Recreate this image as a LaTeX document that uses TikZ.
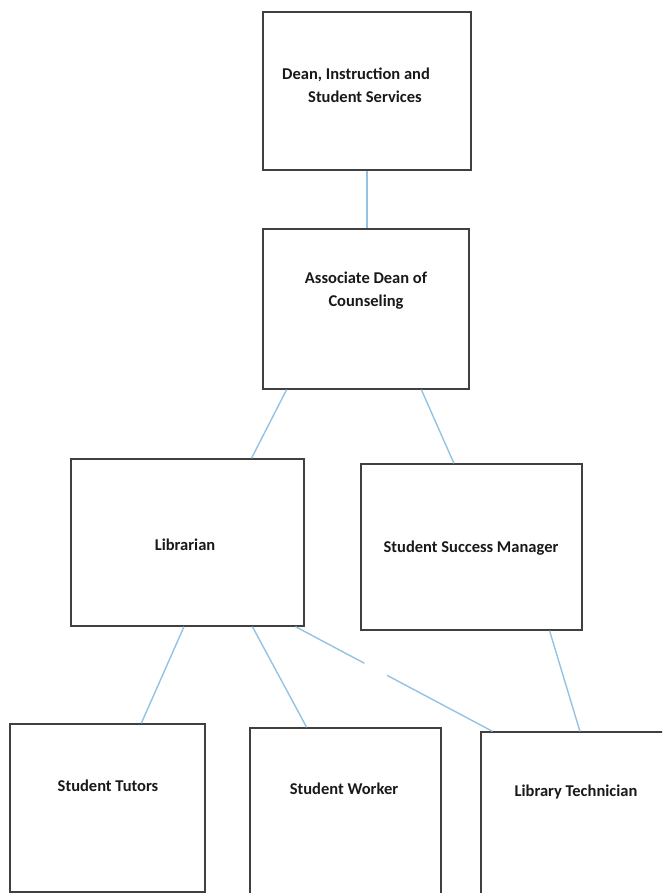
\documentclass[tikz,border=0pt]{standalone}
\usepackage{fontspec}
\setmainfont{Carlito}
\usetikzlibrary{calc}
\definecolor{boxline}{HTML}{404040}
\definecolor{conn}{HTML}{93C3E3}
\begin{document}
\begin{tikzpicture}[x=1pt,y=-1pt,
  box/.style={draw=boxline,line width=1.3pt,rectangle,inner sep=0pt},
  lbl/.style={font=\fontsize{16.5}{23}\selectfont\bfseries,text=black!90,align=center,inner sep=0pt},
  link/.style={draw=conn,line width=1.4pt}]
\useasboundingbox (0,0) rectangle (662,893);
\clip (0,0) rectangle (662,893);
% boxes
\node[box,minimum width=208pt,minimum height=158pt] (dean) at (367,91) {};
\node[box,minimum width=206pt,minimum height=160pt] (assoc) at (366,309) {};
\node[box,minimum width=233pt,minimum height=167pt] (lib) at (187.5,542.5) {};
\node[box,minimum width=221pt,minimum height=166pt] (ssm) at (471.5,547) {};
\node[box,minimum width=195pt,minimum height=168pt] (tutors) at (107.5,808) {};
\node[box,minimum width=191pt,minimum height=172pt] (worker) at (345.5,814) {};
\node[box,minimum width=219pt,minimum height=173pt] (libtech) at (590.5,818.5) {};
% labels
\node[lbl,align=left,anchor=west] (deanT) at (282,85) {Dean, Instruction and\\\hspace*{26pt}Student Services};
\node[lbl] (assocT) at (366,291) {Associate Dean of\\Counseling};
\node[lbl] (libT) at (185,545) {Librarian};
\node[lbl] (ssmT) at (471,548) {Student Success Manager};
\node[lbl] (tutorsT) at (108,786) {Student Tutors};
\node[lbl] (workerT) at (344,789) {Student Worker};
\node[lbl] (libtechT) at (576,792) {Library Technician};
% connectors
\draw[link] (dean.south) -- (dean.south |- assoc.north);
\draw[link] ($(assoc.south west)!0.117!(assoc.south east)$) -- ($(lib.north west)!0.773!(lib.north east)$);
\draw[link] ($(assoc.south west)!0.767!(assoc.south east)$) -- ($(ssm.north west)!0.421!(ssm.north east)$);
\draw[link] ($(lib.south west)!0.485!(lib.south east)$) -- ($(tutors.north west)!0.672!(tutors.north east)$);
\draw[link] ($(lib.south west)!0.777!(lib.south east)$) -- ($(worker.north west)!0.298!(worker.north east)$);
\coordinate (la) at ($(lib.south west)!0.961!(lib.south east)$);
\coordinate (lb) at ($(libtech.north west)!0.055!(libtech.north east)$);
\draw[link] (la) -- ($(la)!0.35!(lb)$);
\draw[link] ($(la)!0.465!(lb)$) -- (lb);
\draw[link] ($(ssm.south west)!0.851!(ssm.south east)$) -- ($(libtech.north west)!0.452!(libtech.north east)$);
\end{tikzpicture}
\end{document}
